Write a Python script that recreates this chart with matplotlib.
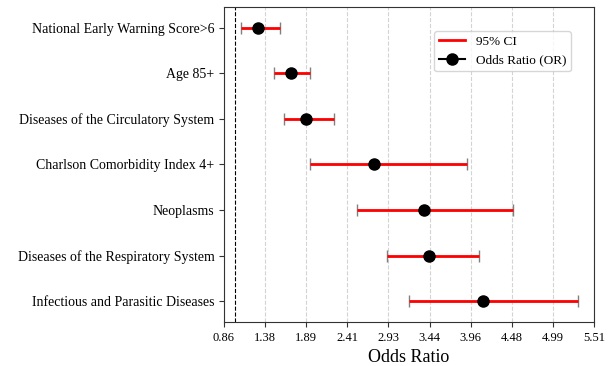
import numpy as np
import matplotlib
matplotlib.use("Agg")
import matplotlib.pyplot as plt
from matplotlib.lines import Line2D

labels = ["National Early Warning Score>6", "Age 85+", "Diseases of the Circulatory System",
          "Charlson Comorbidity Index 4+", "Neoplasms", "Diseases of the Respiratory System",
          "Infectious and Parasitic Diseases"]
odds = [1.29, 1.70, 1.89, 2.75, 3.37, 3.44, 4.12]
ci_low = [1.07, 1.49, 1.61, 1.94, 2.53, 2.91, 3.19]
ci_high = [1.57, 1.94, 2.24, 3.91, 4.49, 4.07, 5.31]

plt.rcParams["font.family"] = ["Liberation Serif", "DejaVu Serif"]

fig = plt.figure(figsize=(6.13, 3.66), dpi=100)
ax = fig.add_axes([0.3654, 0.1202, 0.6036, 0.8608])

y = np.arange(len(labels))
odds = np.array(odds); lo = np.array(ci_low); hi = np.array(ci_high)

ax.errorbar(odds, y, xerr=[odds - lo, hi - odds], fmt="none", ecolor="gray",
            capsize=4, elinewidth=1, capthick=1, zorder=2)
ax.hlines(y, lo, hi, color="red", linewidth=2, zorder=3)
ax.plot(odds, y, "o", color="black", markersize=8, zorder=4)
ax.axvline(1, color="black", linestyle="--", linewidth=0.8, zorder=1)

ticks = np.linspace(0.86, 5.51, 10)
ax.set_xlim(0.86, 5.51)
ax.set_xticks(ticks)
ax.set_xticklabels([f"{t:.2f}" for t in ticks], fontsize=9)
ax.xaxis.grid(True, linestyle="--", color="lightgray", linewidth=0.8)
ax.set_axisbelow(True)
ax.set_yticks(y)
ax.set_yticklabels(labels, fontsize=10)
ax.set_ylim(6.45, -0.45)
ax.set_xlabel("Odds Ratio", fontsize=13)
for s in ax.spines.values():
    s.set_color("#333333")
ax.tick_params(color="#333333")

handles = [Line2D([], [], color="red", linewidth=2),
           Line2D([], [], color="black", marker="o", markersize=8)]
ax.legend(handles, ["95% CI", "Odds Ratio (OR)"], loc="upper right",
          bbox_to_anchor=(0.955, 0.945), fontsize=9.5, borderpad=0.35)

fig.savefig("out.png", dpi=100)
